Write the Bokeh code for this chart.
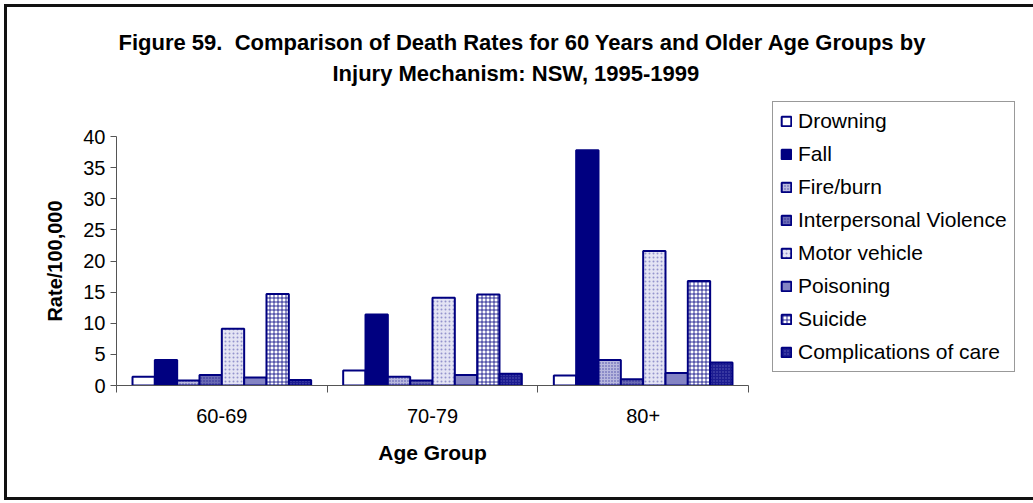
from bokeh.plotting import figure
from bokeh.models import Range1d, FixedTicker, SingleIntervalTicker, Legend, LegendItem, Title, ColumnDataSource
from bokeh.embed import file_html
from bokeh.resources import INLINE

categories = ["60-69", "70-79", "80+"]
mechanisms = ["Drowning", "Fall", "Fire/burn", "Interpersonal Violence",
              "Motor vehicle", "Poisoning", "Suicide", "Complications of care"]
drowning = [1.4, 2.4, 1.6]
fall = [4.1, 11.4, 37.8]
fire_burn = [0.8, 1.4, 4.1]
interpersonal_violence = [1.7, 0.8, 1.0]
motor_vehicle = [9.1, 14.1, 21.6]
poisoning = [1.3, 1.7, 2.0]
suicide = [14.7, 14.6, 16.8]
complications_of_care = [0.9, 1.9, 3.7]
series = [drowning, fall, fire_burn, interpersonal_violence,
          motor_vehicle, poisoning, suicide, complications_of_care]

NAVY = "#000080"
styles = [
    dict(fill_color="white"),
    dict(fill_color=NAVY),
    dict(fill_color="#b8b8de", hatch_pattern="dot", hatch_color=NAVY, hatch_scale=3, hatch_alpha=0.6),
    dict(fill_color="#6a6ab4", hatch_pattern="dot", hatch_color=NAVY, hatch_scale=3, hatch_alpha=0.6),
    dict(fill_color="#e4e4f4", hatch_pattern="dot", hatch_color=NAVY, hatch_scale=4, hatch_alpha=0.35),
    dict(fill_color="#8484c4"),
    dict(fill_color="white", hatch_pattern="cross", hatch_color=NAVY, hatch_scale=4, hatch_weight=1, hatch_alpha=0.8),
    dict(fill_color="#1c1c90", hatch_pattern="dot", hatch_color="#7070c0", hatch_scale=3, hatch_alpha=0.8),
]

FONT = "Liberation Sans"

p = figure(frame_width=632, frame_height=249,
           min_border_left=109, min_border_right=279, min_border_top=129, min_border_bottom=112,
           x_range=Range1d(0, 3), y_range=Range1d(0, 40),
           output_backend="svg", toolbar_location=None,
           background_fill_color="white", border_fill_color="white")
p.outline_line_color = None
p.grid.visible = False
p.styles = {"border": "3px solid #111111", "margin": "4px 0px 0px 4px"}

bar_w = 0.106
items = []
for j, (name, vals) in enumerate(zip(mechanisms, series)):
    xs = [i + 0.5 + (j - 3.5) * bar_w for i in range(len(categories))]
    src = ColumnDataSource(dict(x=xs, top=vals))
    r = p.vbar(x="x", top="top", width=bar_w, bottom=0, source=src,
               line_color=NAVY, line_width=2, **styles[j])
    items.append(LegendItem(label=name, renderers=[r]))

# x axis: labels at centres, tick marks at group boundaries
p.xaxis.ticker = FixedTicker(ticks=[i + 0.5 for i in range(len(categories))],
                             minor_ticks=list(range(len(categories) + 1)))
p.xaxis.major_label_overrides = {i + 0.5: c for i, c in enumerate(categories)}
p.xaxis.major_tick_out = 0
p.xaxis.major_tick_in = 0
p.xaxis.minor_tick_out = 7
p.xaxis.minor_tick_in = 0
p.xaxis.major_label_standoff = 16
p.xaxis.axis_label = "Age Group"
p.xaxis.axis_label_standoff = 15

p.yaxis.ticker = SingleIntervalTicker(interval=5, num_minor_ticks=0)
p.yaxis.major_tick_out = 6
p.yaxis.major_tick_in = 0
p.yaxis.minor_tick_out = 0
p.yaxis.major_label_standoff = 5
p.yaxis.axis_label = "Rate/100,000"
p.yaxis.axis_label_standoff = 14

for ax in (p.xaxis[0], p.yaxis[0]):
    ax.axis_line_color = "#555555"
    ax.major_tick_line_color = "#555555"
    ax.minor_tick_line_color = "#555555"
    ax.major_label_text_font = FONT
    ax.major_label_text_font_size = "20px"
    ax.major_label_text_color = "black"
    ax.axis_label_text_font = FONT
    ax.axis_label_text_font_size = "20px"
    ax.axis_label_text_font_style = "bold"
    ax.axis_label_text_color = "black"
p.xaxis.axis_label_text_font_size = "21px"

legend = Legend(items=items, location=(24, 13),
                label_text_font=FONT, label_text_font_size="21px", label_text_color="black",
                glyph_width=12, glyph_height=12, label_height=20,
                spacing=9, padding=7, margin=0, label_standoff=6,
                border_line_color="#333333", border_line_width=1,
                background_fill_color="white", background_fill_alpha=1)
p.add_layout(legend, "right")

# spacer closest to the frame, then the two title lines
p.add_layout(Title(text=" ", text_font_size="33px", text_font=FONT), "above")
title_lines = ["Figure 59.\u00a0 Comparison of Death Rates for 60 Years and Older Age Groups by",
               "Injury Mechanism: NSW, 1995-1999"]
title_offsets = [2, 216]
for t, off in reversed(list(zip(title_lines, title_offsets))):
    p.add_layout(Title(text=t, align="left", offset=off, standoff=4,
                       text_font=FONT, text_font_size="22px", text_font_style="bold",
                       text_color="black"), "above")

open("out.html", "w").write(file_html(p, INLINE))
